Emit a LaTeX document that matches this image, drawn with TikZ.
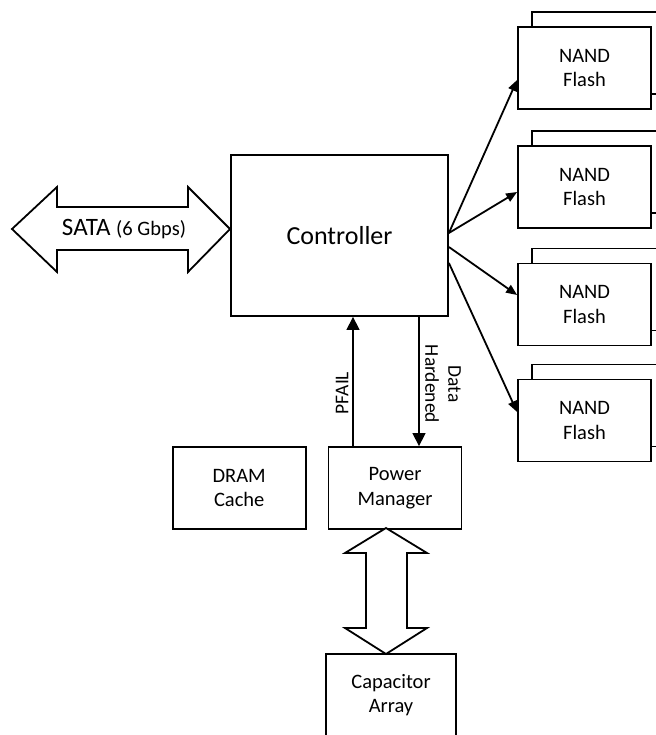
\documentclass[tikz,border=0pt]{standalone}
\usepackage{fontspec}
\setmainfont{Carlito}
\usetikzlibrary{arrows.meta,calc,positioning}

\tikzset{
	box/.style={draw, line width=1.8pt, fill=white, minimum width=133pt,
		minimum height=82pt, align=center, inner sep=0pt,
		font=\fontsize{20.5}{24.5}\selectfont},
	link/.style={line width=1.8pt, -{Triangle[length=11pt,width=9pt]}},
	sig/.style={line width=1.3pt, -{Triangle[length=13pt,width=13pt]}},
	lbl/.style={inner sep=0pt, align=center, font=\fontsize{19.5}{23}\selectfont},
	fat/.style={draw, line width=1.8pt, fill=white, line join=miter}
}

\begin{document}
\begin{tikzpicture}[x=1pt,y=-1pt]
	\useasboundingbox (0,0) rectangle (655,735);

	\node [box, minimum width=217pt, minimum height=161pt,
		font=\fontsize{26}{30}\selectfont] (ctrl) at (339.5,235.5) {Controller};

	% flash stacks
	\foreach \i/\y in {1/68,2/187,3/304.5,4/420.5} {
		\node [box, anchor=north west] (back\i) at (531,{\y-57}) {};
		\node [box] (nand\i) at (584.5,\y) {NAND\\Flash};
	}
	\foreach \i/\a/\b in {1/-2.5/12,2/-2.5/5,3/11.5/-9.5,4/27.5/-8.5}
		\draw [link] ($(ctrl.east)+(0,\a)$) -- ($(nand\i.west)+(0,\b)$);

	% host link
	\draw [fat] (12,229) -- (57,187) -- (57,207) -- (188,207) -- (188,187)
		-- (230,229) -- (188,272) -- (188,250) -- (57,250) -- (57,272) -- cycle;
	\node [inner sep=0pt, font=\fontsize{25}{29}\selectfont] (sata) at (124,229)
		{SATA {\fontsize{20.5}{24}\selectfont (6 Gbps)}};

	\node [box] (pm) at (395,488) {Power\\Manager};
	\node [box, left=21pt of pm] (dram) {DRAM\\Cache};
	\node [box, minimum width=130pt] (cap) at (391,695) {Capacitor\\Array};

	% power fail handshake
	\coordinate (pf) at (353,0);
	\coordinate (dh) at (419,0);
	\draw [sig] (pf |- pm.north) -- (pf |- ctrl.south);
	\draw [sig] (dh |- ctrl.south) -- (dh |- pm.north);
	\node [lbl, rotate=90] (pfail) at (342,393) {PFAIL};
	\node [lbl, rotate=-90] (hard) at (443,384) {Data\\Hardened};

	% energy store
	\draw [fat] (386,528) -- (427,553) -- (407,553) -- (407,628) -- (427,628)
		-- (386,654) -- (345,628) -- (366,628) -- (366,553) -- (345,553) -- cycle;

\end{tikzpicture}
\end{document}
